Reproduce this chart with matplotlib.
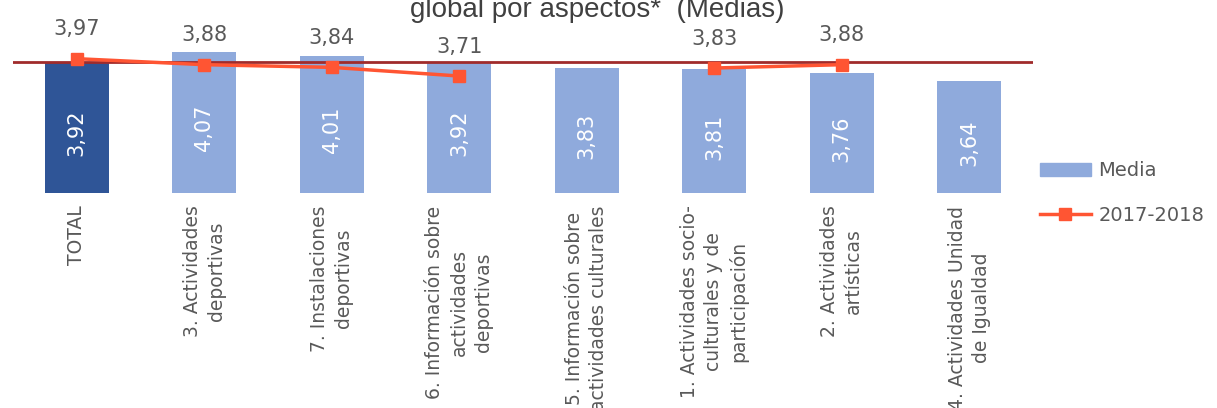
import numpy as np
import matplotlib
matplotlib.use('Agg')
import matplotlib.pyplot as plt
from matplotlib.patches import Patch
from matplotlib.lines import Line2D

categorias = ["TOTAL",
              "3. Actividades\ndeportivas",
              "7. Instalaciones\ndeportivas",
              "6. Información sobre\nactividades\ndeportivas",
              "5. Información sobre\nactividades culturales",
              "1. Actividades socio-\nculturales y de\nparticipación",
              "2. Actividades\nartísticas",
              "4. Actividades Unidad\nde Igualdad"]
media = [3.92, 4.07, 4.01, 3.92, 3.83, 3.81, 3.76, 3.64]
curso_2017_2018 = [3.97, 3.88, 3.84, 3.71, np.nan, 3.83, 3.88, np.nan]
titulo = "global por aspectos*  (Medias)"

gris = '#595959'
azul_total = '#2F5597'
azul = '#8FAADC'
naranja = '#FF5533'
granate = '#A02B2B'

fig = plt.figure(figsize=(12.17, 4.08), dpi=100)
ax = fig.add_axes([13 / 1217, 1 - 193 / 408, 1020 / 1217, 193 / 408])

x = np.arange(len(categorias))
colores = [azul_total] + [azul] * (len(categorias) - 1)
ymin, ymax = 1.956, 4.85
ax.bar(x, media, width=0.5, color=colores, zorder=1)
ax.set_xlim(-0.5, len(categorias) - 0.5)
ax.set_ylim(ymin, ymax)

# valores dentro de las barras
for xi, v in zip(x, media):
    ax.annotate(f"{v:.2f}".replace('.', ','), (xi, (v + ymin) / 2),
                xytext=(0, -4), textcoords='offset points',
                rotation=90, ha='center', va='center',
                color='white', fontsize=15)

# referencia: media total
ax.axhline(media[0], color=granate, lw=2, zorder=2)

ax.plot(x, curso_2017_2018, color=naranja, lw=2.5, marker='s',
        markersize=9, zorder=3)
for xi, v in zip(x, curso_2017_2018):
    if np.isnan(v):
        continue
    ax.annotate(f"{v:.2f}".replace('.', ','), (xi, v),
                xytext=(0, 14), textcoords='offset points',
                ha='center', va='bottom', color=gris, fontsize=15)

ax.set_xticks(x)
ax.set_xticklabels(categorias, rotation=90, ha='center', va='top',
                   multialignment='center', fontsize=13.5, color=gris,
                   linespacing=1.35)
ax.tick_params(axis='x', length=0, pad=9)
ax.set_yticks([])
for s in ax.spines.values():
    s.set_visible(False)

fig.text(597 / 1217, 1 - 17 / 408, titulo, ha='center', va='baseline',
         fontsize=20, color='#404040', family='Liberation Sans')

handles = [Patch(color=azul),
           Line2D([], [], color=naranja, lw=2.5, marker='s', markersize=9)]
fig.legend(handles, ["Media", "2017-2018"], loc='center left',
           bbox_to_anchor=(1040 / 1217, 1 - 193 / 408), frameon=False,
           borderpad=0, borderaxespad=0, handlelength=2.6,
           handleheight=0.6, handletextpad=0.4, labelspacing=1.3,
           fontsize=14, labelcolor=gris)

fig.savefig('out.png', dpi=100)
